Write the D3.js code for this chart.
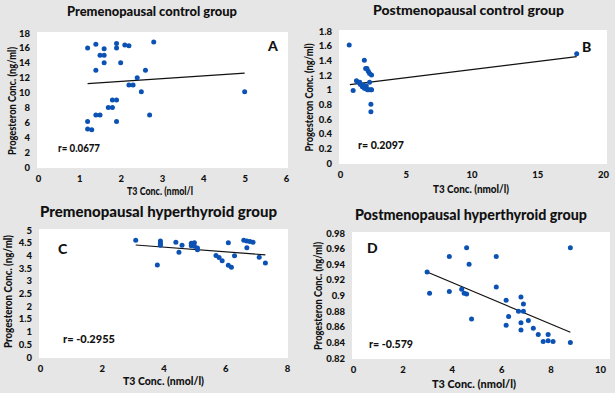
<!DOCTYPE html>
<html lang="en">
<head>
    <meta charset="UTF-8">
    <title>Progesterone vs T3 scatter panels</title>
    <script src="https://cdnjs.cloudflare.com/ajax/libs/d3/7.8.5/d3.min.js"></script>
    <style>
        body {
            margin: 0;
            background-color: #e6e6e6;
        }
        svg text {
            font-family: Lato, "Liberation Sans", sans-serif;
            font-weight: 900;
            fill: #111;
        }
    </style>
</head>
<body>
    <div id="chart"></div>

    <script>
        // Panel A - premenopausal control group [T3, progesteron]
        const dataA = [
            [1.2, 16], [1.4, 16.5], [1.6, 15.9], [1.5, 15], [1.6, 15], [1.6, 14], [1.4, 13],
            [1.9, 16.6], [1.9, 16], [2.1, 16.4], [2.2, 16.3], [2.8, 16.8], [2.0, 14], [2.6, 13],
            [2.4, 12], [2.2, 11], [2.3, 11], [2.5, 10.1], [5.0, 10.1], [1.8, 9], [1.9, 9],
            [1.7, 8], [1.8, 8], [1.4, 7], [1.5, 7], [2.7, 7], [1.2, 6.1], [1.9, 6.1],
            [1.2, 5.1], [1.3, 5]
        ];
        const trendA = [[1.2, 11.2], [5.0, 12.6]];

        // Panel B - postmenopausal control group
        const dataB = [
            [0.7, 1.61], [1.0, 0.99], [1.25, 1.12], [1.4, 1.1], [1.55, 1.07], [1.7, 1.04],
            [1.85, 1.02], [2.0, 1.01], [2.1, 1.0], [2.2, 1.0], [2.35, 1.0], [2.4, 1.0],
            [1.5, 1.1], [2.0, 1.05], [1.8, 1.06], [1.85, 1.4], [1.95, 1.29], [2.05, 1.29],
            [2.15, 1.25], [2.25, 1.22], [2.4, 1.2], [2.25, 1.1], [2.35, 0.8], [2.35, 0.7],
            [18.0, 1.49]
        ];
        const trendB = [[0.75, 1.07], [18.0, 1.45]];

        // Panel C - premenopausal hyperthyroid group
        const dataC = [
            [3.1, 4.6], [3.9, 4.57], [3.9, 4.48], [3.9, 4.4], [3.8, 3.62], [4.4, 4.52],
            [4.6, 4.4], [4.5, 4.12], [4.9, 4.48], [5.0, 4.5], [4.9, 4.38], [5.0, 4.36],
            [5.1, 4.29], [5.1, 4.22], [5.7, 4.0], [5.8, 3.92], [5.9, 3.79], [6.1, 4.5],
            [6.1, 3.61], [6.2, 3.53], [6.3, 3.99], [6.6, 4.6], [6.7, 4.57], [6.8, 4.55],
            [6.9, 4.52], [6.7, 4.3], [7.1, 3.93], [7.3, 3.7]
        ];
        const trendC = [[3.1, 4.41], [7.3, 4.02]];

        // Panel D - postmenopausal hyperthyroid group
        const dataD = [
            [3.0, 0.93], [3.1, 0.903], [3.9, 0.95], [3.9, 0.905], [4.6, 0.961], [4.7, 0.94],
            [4.4, 0.908], [4.5, 0.903], [4.6, 0.902], [4.8, 0.87], [5.8, 0.95], [5.8, 0.911],
            [6.2, 0.894], [6.2, 0.862], [6.3, 0.873], [6.7, 0.88], [6.8, 0.898], [6.9, 0.889],
            [6.9, 0.88], [6.8, 0.865], [6.8, 0.856], [7.1, 0.868], [7.3, 0.858], [7.5, 0.85],
            [7.7, 0.841], [7.9, 0.842], [8.1, 0.841], [7.9, 0.85], [8.8, 0.961], [8.8, 0.84]
        ];
        const trendD = [[3.0, 0.93], [8.8, 0.853]];

        const titles = [
            "Premenopausal control group", "Postmenopausal control group",
            "Premenopausal hyperthyroid group", "Postmenopausal hyperthyroid group"
        ];
        const letters = ["A", "B", "C", "D"];
        const rLabels = ["r= 0.0677", "r= 0.2097", "r= -0.2955", "r= -0.579"];
        const xTitles = ["T3 Conc. (nmol/l", "T3 Conc. (nmol/l)", "T3 Conc. (nmol/l)", "T3 Conc. (nmol/l)"];
        const yTitle = "Progesteron Conc. (ng/ml)";

        const xTicksA = [0, 1, 2, 3, 4, 5, 6];
        const yTicksA = [0, 2, 4, 6, 8, 10, 12, 14, 16, 18];
        const xTicksB = [0, 5, 10, 15, 20];
        const yTicksB = [0, 0.2, 0.4, 0.6, 0.8, 1, 1.2, 1.4, 1.6, 1.8];
        const xTicksC = [0, 2, 4, 6, 8];
        const yTicksC = [0, 0.5, 1, 1.5, 2, 2.5, 3, 3.5, 4, 4.5, 5];
        const xTicksD = [0, 2, 4, 6, 8, 10];
        const yTicksD = [0.82, 0.84, 0.86, 0.88, 0.9, 0.92, 0.94, 0.96, 0.98];

        // layout of each panel: plot box, then text placement [x, y, width, fontsize]
        const panels = [
            { data: dataA, trend: trendA, xt: xTicksA, yt: yTicksA,
              box: { l: 38, r: 286, t: 33, b: 167, wr: 288 },
              title: [67, 16, 170, 13], xTitle: [127, 195, 66, 10.5], yTitle: [16, 101, 108, 10.5],
              letter: [268, 51], rPos: [58, 152, 42] },
            { data: dataB, trend: trendB, xt: xTicksB, yt: yTicksB,
              box: { l: 340, r: 603, t: 31, b: 163, wr: 607 },
              title: [373, 15, 191, 13.5], xTitle: [433, 193, 76, 10.5], yTitle: [313, 97.5, 108, 10.5],
              letter: [582, 52], rPos: [358, 149, 46] },
            { data: dataC, trend: trendC, xt: xTicksC, yt: yTicksC,
              box: { l: 40, r: 287, t: 230, b: 357, wr: 288 },
              title: [40, 217, 237, 15.5], xTitle: [123, 385, 81, 10.5], yTitle: [11.5, 291.5, 113, 10.5],
              letter: [58, 254], rPos: [63, 343, 52] },
            { data: dataD, trend: trendD, xt: xTicksD, yt: yTicksD,
              box: { l: 353, r: 600, t: 233, b: 358, wr: 610 },
              title: [355, 220, 232, 15.5], xTitle: [432, 388, 84, 10.5], yTitle: [321.5, 296, 108, 10.5],
              letter: [367, 253], rPos: [369, 348, 44] }
        ];

        const fmt = v => String(+v.toFixed(2));

        const svg = d3.select("#chart").append("svg")
            .attr("width", 615)
            .attr("height", 393);

        panels.forEach((p, i) => {
            const b = p.box;
            const x = d3.scaleLinear()
                .domain([p.xt[0], p.xt[p.xt.length - 1]])
                .range([b.l, b.r]);
            const y = d3.scaleLinear()
                .domain([p.yt[0], p.yt[p.yt.length - 1]])
                .range([b.b, b.t]);

            const g = svg.append("g");

            g.append("rect")
                .attr("x", b.l - 1)
                .attr("y", b.t - 1)
                .attr("width", b.wr - b.l + 1)
                .attr("height", b.b - b.t + 2)
                .attr("fill", "#ffffff");

            const xAxis = g.append("g")
                .attr("transform", `translate(0,${b.b + 2})`)
                .call(d3.axisBottom(x).tickValues(p.xt).tickSize(0).tickPadding(6).tickFormat(fmt));
            const yAxis = g.append("g")
                .attr("transform", `translate(${b.l - 2},0)`)
                .call(d3.axisLeft(y).tickValues(p.yt).tickSize(0).tickPadding(6).tickFormat(fmt));
            xAxis.select(".domain").remove();
            yAxis.select(".domain").remove();
            g.selectAll(".tick text")
                .attr("fill", "#111")
                .style("font-size", "9.5px")
                .style("font-family", "Lato, sans-serif")
                .style("font-weight", 900);

            g.append("text")
                .attr("x", p.title[0])
                .attr("y", p.title[1])
                .attr("textLength", p.title[2])
                .attr("lengthAdjust", "spacingAndGlyphs")
                .style("font-size", p.title[3] + "px")
                .text(titles[i]);

            g.append("text")
                .attr("x", p.xTitle[0])
                .attr("y", p.xTitle[1])
                .attr("textLength", p.xTitle[2])
                .attr("lengthAdjust", "spacingAndGlyphs")
                .style("font-size", p.xTitle[3] + "px")
                .text(xTitles[i]);

            g.append("text")
                .attr("transform", `translate(${p.yTitle[0]},${p.yTitle[1]}) rotate(-90)`)
                .attr("x", -p.yTitle[2] / 2)
                .attr("textLength", p.yTitle[2])
                .attr("lengthAdjust", "spacingAndGlyphs")
                .style("font-size", p.yTitle[3] + "px")
                .text(yTitle);

            g.append("line")
                .attr("x1", x(p.trend[0][0]))
                .attr("y1", y(p.trend[0][1]))
                .attr("x2", x(p.trend[1][0]))
                .attr("y2", y(p.trend[1][1]))
                .attr("stroke", "#111")
                .attr("stroke-width", 1.2);

            g.selectAll(".dot")
                .data(p.data)
                .enter().append("circle")
                .attr("class", "dot")
                .attr("cx", d => x(d[0]))
                .attr("cy", d => y(d[1]))
                .attr("r", 2.5)
                .attr("fill", "#0b52b4");

            g.append("text")
                .attr("x", p.letter[0])
                .attr("y", p.letter[1])
                .style("font-size", "14px")
                .text(letters[i]);

            g.append("text")
                .attr("x", p.rPos[0])
                .attr("y", p.rPos[1])
                .attr("textLength", p.rPos[2])
                .attr("lengthAdjust", "spacingAndGlyphs")
                .style("font-size", "11.5px")
                .text(rLabels[i]);
        });
    </script>
</body>
</html>
